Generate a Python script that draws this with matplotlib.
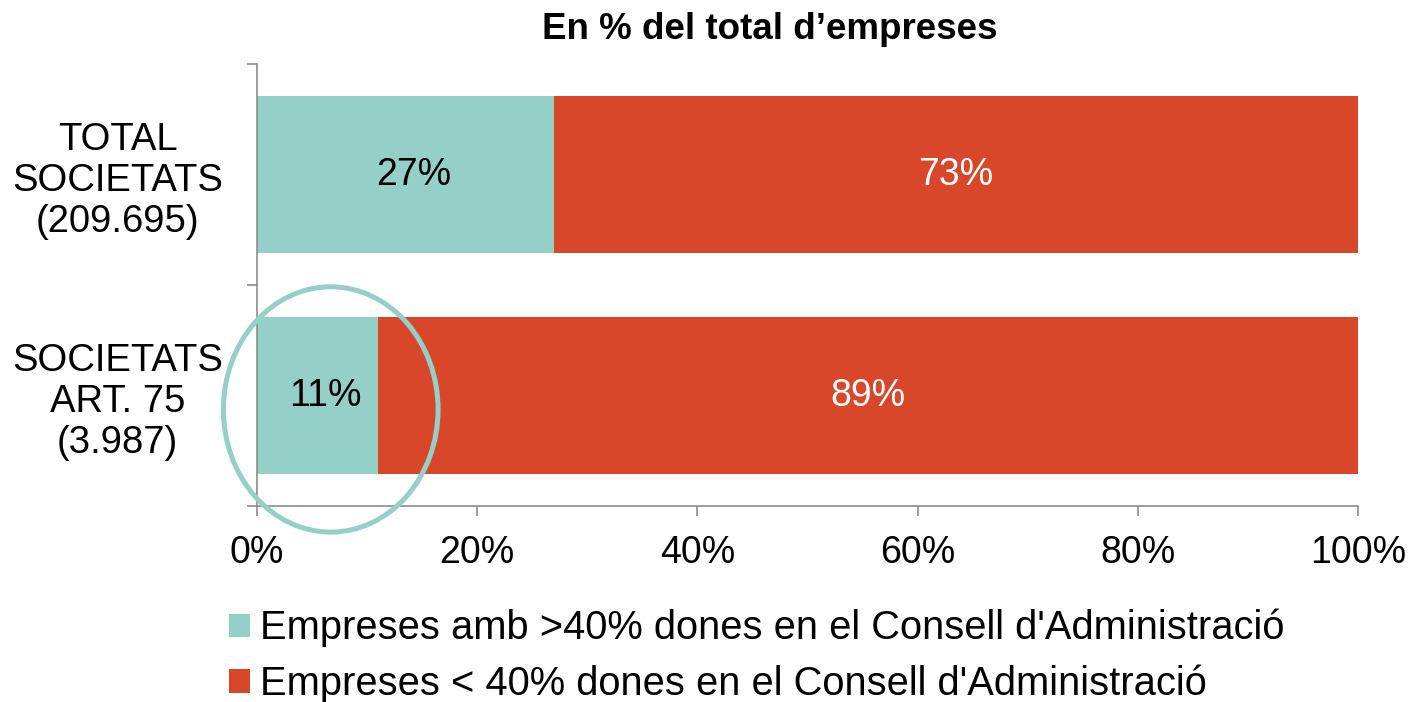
import matplotlib
matplotlib.use("Agg")
import matplotlib.pyplot as plt
from matplotlib.patches import Ellipse, Patch

plt.rcParams["font.family"] = ["Liberation Sans", "DejaVu Sans"]

# data
categories = ["SOCIETATS\nART. 75\n(3.987)", "TOTAL\nSOCIETATS\n(209.695)"]
above_40 = [11, 27]
below_40 = [89, 73]
series_names = [
    "Empreses amb >40% dones en el Consell d'Administració",
    "Empreses < 40% dones en el Consell d'Administració",
]
x_ticks = [0, 20, 40, 60, 80, 100]
x_ticklabels = ["0%", "20%", "40%", "60%", "80%", "100%"]

TEAL = "#94D0C8"
RED = "#D9472A"
AXIS_GREY = "#8C8C8C"

fig = plt.figure(figsize=(14.08, 7.02), dpi=100)
ax = fig.add_axes([0.1825, 0.2792, 0.7820, 0.6296])

y = list(range(len(categories)))
bar_h = 0.71
ax.barh(y, above_40, height=bar_h, color=TEAL, edgecolor="none")
ax.barh(y, below_40, left=above_40, height=bar_h, color=RED, edgecolor="none")

for yi, a, b in zip(y, above_40, below_40):
    ax.annotate(f"{a}%", (a / 2, yi), xytext=(6, 0), textcoords="offset points",
                ha="center", va="center", fontsize=27, color="black")
    ax.annotate(f"{b}%", (a + b / 2, yi), xytext=(0, 0), textcoords="offset points",
                ha="center", va="center", fontsize=27, color="white")

ax.set_xlim(0, 100)
ax.set_ylim(-0.5, len(categories) - 0.5)

ax.set_xticks(x_ticks)
ax.set_xticklabels(x_ticklabels, fontsize=27)
ax.tick_params(axis="x", direction="out", length=7, width=1.2, color=AXIS_GREY, pad=14)

# category labels without tick marks, tick marks at band boundaries
ax.set_yticks(y)
ax.set_yticklabels(categories, fontsize=27.5, multialignment="center", linespacing=1.18)
ax.tick_params(axis="y", which="major", length=0, pad=24.5)
ax.set_yticks([-0.5, 0.5, 1.5], minor=True)
ax.tick_params(axis="y", which="minor", direction="out", length=7, width=1.2, color=AXIS_GREY)

for side in ["top", "right"]:
    ax.spines[side].set_visible(False)
for side in ["left", "bottom"]:
    ax.spines[side].set_color(AXIS_GREY)
    ax.spines[side].set_linewidth(1.2)

# highlight ring round the Art. 75 group
ring = Ellipse((6.7, -0.063), width=19.5, height=1.11, fill=False,
               edgecolor=TEAL, linewidth=3.6, clip_on=False, zorder=5)
ax.add_patch(ring)

fig.text(0.547, 0.958, "En % del total d\u2019empreses", ha="center", va="center",
         fontsize=26.5, fontweight="bold")

handles = [Patch(facecolor=TEAL, edgecolor="none"), Patch(facecolor=RED, edgecolor="none")]
fig.legend(handles, series_names, loc="upper left", bbox_to_anchor=(0.1626, 0.1325),
           frameon=False, fontsize=28.7, handlelength=0.53, handleheight=0.53,
           handletextpad=0.25, labelspacing=0.43, borderpad=0, borderaxespad=0)

fig.savefig("out.png", dpi=100)
